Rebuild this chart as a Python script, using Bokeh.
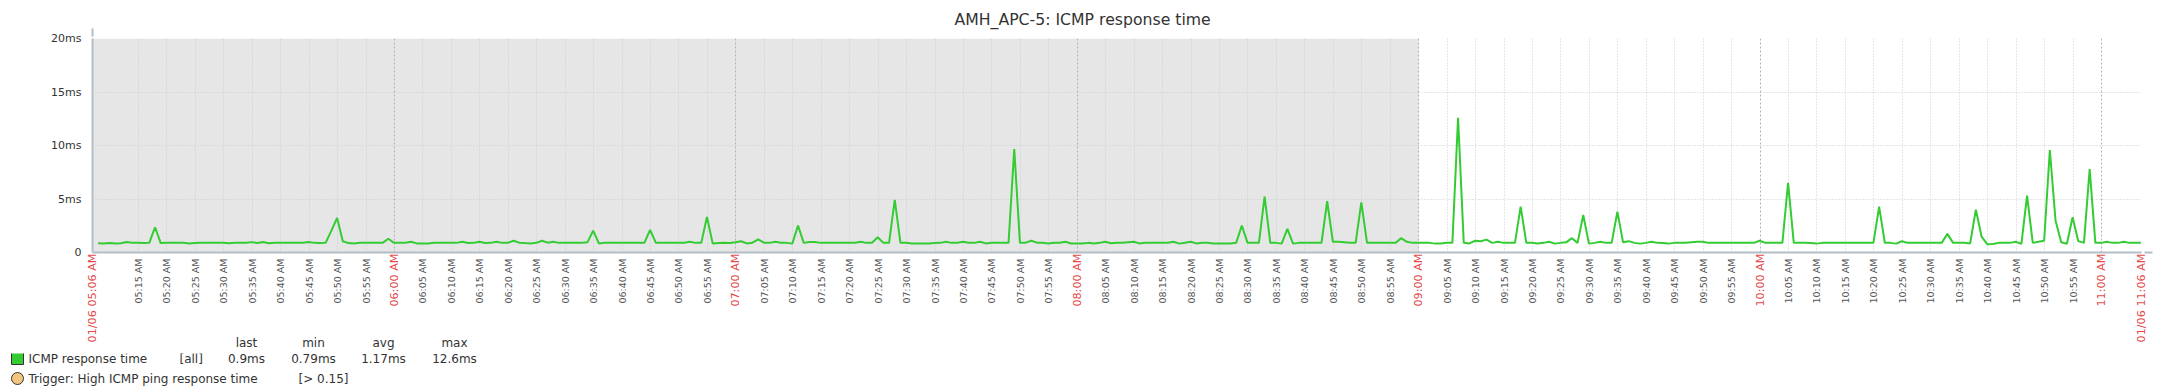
import numpy as np
from bokeh.plotting import figure
from bokeh.layouts import column, row
from bokeh.models import (Range1d, FixedTicker, Grid, BoxAnnotation, LinearAxis,
                          Arrow, NormalHead)
from bokeh.core.properties import value
from bokeh.embed import file_html
from bokeh.resources import INLINE

# ---------------- data ----------------
title_text = "AMH_APC-5: ICMP response time"
series_name = "ICMP response time"
series_scope = "[all]"
trigger_name = "Trigger: High ICMP ping response time"
trigger_cond = "[> 0.15]"
legend_cols = ["last", "min", "avg", "max"]
legend_vals = ["0.9ms", "0.79ms", "1.17ms", "12.6ms"]

# time window, minutes after midnight (05:06:56 .. 11:07:02)
x_start = 306.93
x_end = 667.03
first_sample = 307.92      # first ping sample (minutes after midnight)
sample_step = 1.0          # one ping per minute

# ICMP response time, ms, one value per minute
response_ms = [
    0.87, 0.85, 0.88, 0.85, 0.87, 0.98, 0.92, 0.90, 0.88, 0.92,
    2.36, 0.88, 0.90, 0.90, 0.90, 0.90, 0.85, 0.88, 0.90, 0.90,
    0.90, 0.90, 0.90, 0.86, 0.90, 0.90, 0.92, 0.97, 0.88, 0.98,
    0.86, 0.90, 0.90, 0.90, 0.90, 0.90, 0.92, 0.98, 0.90, 0.88,
    0.92, 2.05, 3.23, 1.05, 0.88, 0.85, 0.90, 0.90, 0.90, 0.90,
    0.90, 1.28, 0.90, 0.90, 0.92, 1.00, 0.85, 0.84, 0.85, 0.90,
    0.90, 0.90, 0.90, 0.90, 1.00, 0.88, 0.90, 1.00, 0.88, 0.90,
    1.00, 0.90, 0.90, 1.10, 0.92, 0.88, 0.85, 0.90, 1.10, 0.92,
    1.00, 0.90, 0.90, 0.90, 0.90, 0.90, 0.95, 2.05, 0.85, 0.90,
    0.90, 0.90, 0.90, 0.90, 0.90, 0.90, 0.90, 2.12, 0.92, 0.90,
    0.90, 0.90, 0.90, 0.92, 1.00, 0.90, 0.90, 3.33, 0.85, 0.88,
    0.90, 0.88, 0.95, 1.05, 0.85, 0.92, 1.22, 0.92, 0.90, 1.00,
    0.92, 0.90, 0.83, 2.52, 0.90, 0.98, 0.98, 0.90, 0.90, 0.90,
    0.90, 0.90, 0.90, 0.92, 1.00, 0.90, 0.92, 1.43, 0.90, 0.90,
    4.91, 0.90, 0.90, 0.85, 0.84, 0.85, 0.84, 0.88, 0.90, 1.00,
    0.90, 0.92, 1.00, 0.92, 0.90, 1.00, 0.85, 0.90, 0.90, 0.90,
    0.90, 9.67, 0.90, 0.92, 1.10, 0.92, 0.90, 0.85, 0.90, 0.92,
    1.00, 0.84, 0.83, 0.84, 0.90, 0.85, 0.90, 1.00, 0.86, 0.90,
    0.90, 0.95, 1.00, 0.85, 0.90, 0.90, 0.92, 0.90, 0.92, 1.00,
    0.83, 0.92, 1.00, 0.85, 0.90, 0.90, 0.85, 0.84, 0.84, 0.85,
    0.90, 2.52, 0.90, 0.90, 0.90, 5.22, 0.90, 0.90, 0.83, 2.21,
    0.83, 0.90, 0.90, 0.90, 0.90, 0.90, 4.79, 1.00, 1.00, 0.95,
    0.90, 0.90, 4.69, 0.90, 0.90, 0.90, 0.90, 0.90, 0.90, 1.34,
    1.00, 0.90, 0.92, 0.90, 0.90, 0.83, 0.85, 0.90, 0.90, 12.6,
    0.90, 0.85, 1.10, 1.05, 1.20, 0.90, 1.00, 0.90, 0.90, 0.90,
    4.29, 0.90, 0.90, 0.85, 0.90, 1.00, 0.83, 0.90, 0.95, 1.34,
    0.90, 3.51, 0.83, 0.90, 1.00, 0.90, 0.90, 3.82, 0.95, 1.06,
    0.90, 0.83, 0.90, 1.00, 0.90, 0.88, 0.83, 0.90, 0.90, 0.90,
    0.95, 1.00, 1.00, 0.90, 0.90, 0.90, 0.90, 0.90, 0.90, 0.90,
    0.90, 0.90, 1.10, 0.90, 0.90, 0.90, 0.90, 6.50, 0.90, 0.90,
    0.90, 0.88, 0.83, 0.90, 0.90, 0.90, 0.90, 0.90, 0.90, 0.90,
    0.90, 0.90, 0.90, 4.29, 0.90, 0.90, 0.83, 1.05, 0.90, 0.90,
    0.90, 0.90, 0.90, 0.90, 0.90, 1.74, 0.90, 0.90, 0.90, 0.85,
    4.00, 1.49, 0.78, 0.80, 0.90, 0.90, 0.90, 1.00, 0.81, 5.32,
    0.90, 1.00, 1.10, 9.58, 2.99, 0.96, 0.81, 3.30, 1.06, 0.90,
    7.80, 0.90, 0.90, 1.00, 0.90, 0.90, 1.00, 0.90, 0.90, 0.90,
]
sample_times = first_sample + sample_step * np.arange(len(response_ms))

y_ticks = [0, 5, 10, 15, 20]
y_tick_labels = ["0", "5ms", "10ms", "15ms", "20ms"]

minor_ticks = [m for m in range(315, 660, 5) if m % 60 != 0]
minor_tick_labels = ["%02d:%02d AM" % (m // 60, m % 60) for m in minor_ticks]
hour_ticks = [360, 420, 480, 540, 600, 660]
main_ticks = [x_start + 0.01] + hour_ticks + [x_end - 0.01]
main_tick_labels = ["01/06 05:06 AM", "06:00 AM", "07:00 AM", "08:00 AM",
                    "09:00 AM", "10:00 AM", "11:00 AM", "01/06 11:06 AM"]
work_period_end = 540   # 09:00, shaded before it

# ---------------- layout (page pixels; page has no margin) ----------------
W = 2177
BL, BR, BT = 92, 36, 38
FH = 214
BB = 101
H_MAIN = BT + FH + BB
H_LEG = 390 - H_MAIN
FW = W - BL - BR


def dx(page_x):
    return x_start + (page_x - BL) * (x_end - x_start) / FW


FONT = "DejaVu Sans"
TXT = "#333333"
AXIS = "#b4bec6"
GRID = "#c6ced5"
GRID_MAIN = "#a9b3bb"
RED = "#e24b4b"
GREEN = "#33cc33"

p = figure(width=W, height=H_MAIN, x_range=Range1d(x_start, x_end), y_range=Range1d(0, 20),
           output_backend="svg", toolbar_location=None,
           min_border_left=BL, min_border_right=BR, min_border_top=BT, min_border_bottom=BB)
p.outline_line_color = None
p.background_fill_color = "white"
p.border_fill_color = "white"

# title
p.title.text = title_text
p.title.align = "left"
p.title.vertical_align = "top"
p.title.offset = 862
p.title.standoff = 15
p.title.text_font = FONT
p.title.text_font_size = "15.7px"
p.title.text_font_style = "normal"
p.title.text_color = TXT

# shaded period
p.add_layout(BoxAnnotation(left=x_start, right=work_period_end, fill_color="#e6e6e6",
                           fill_alpha=1.0, line_color=None, level="image"))

# grids
p.xgrid.ticker = FixedTicker(ticks=minor_ticks + [x_end])
p.xgrid.grid_line_color = GRID
p.xgrid.grid_line_dash = "1 2"
p.ygrid.ticker = FixedTicker(ticks=[5, 10, 15, 20])
p.ygrid.grid_line_color = GRID
p.ygrid.grid_line_dash = "1 2"
p.add_layout(Grid(dimension=0, ticker=FixedTicker(ticks=hour_ticks), grid_line_color=GRID_MAIN,
                  grid_line_dash="2 2", grid_line_width=1))


def plain(ax):
    ax.major_tick_line_color = None
    ax.minor_tick_line_color = None
    ax.major_tick_out = 0
    ax.major_tick_in = 0
    ax.minor_tick_out = 0
    ax.minor_tick_in = 0


# gray time labels
xa = p.xaxis[0]
xa.ticker = FixedTicker(ticks=minor_ticks)
xa.major_label_overrides = {m: lab for m, lab in zip(minor_ticks, minor_tick_labels)}
xa.major_label_orientation = np.pi / 2
xa.major_label_text_font = FONT
xa.major_label_text_font_size = "9.5px"
xa.major_label_text_color = "#555555"
xa.major_label_standoff = 6
xa.axis_line_color = AXIS
xa.axis_line_width = 2
plain(xa)

# red (main) time labels
red_axis = LinearAxis(ticker=FixedTicker(ticks=main_ticks),
                      major_label_overrides={t: lab for t, lab in zip(main_ticks, main_tick_labels)},
                      major_label_orientation=np.pi / 2, major_label_text_font=FONT,
                      major_label_text_font_size="11.2px", major_label_text_color=RED,
                      major_label_standoff=-53, axis_line_color=None)
plain(red_axis)
p.add_layout(red_axis, "below")

# legend header
col_centers = [dx(246), dx(313), dx(383), dx(454)]
hdr_axis = LinearAxis(ticker=FixedTicker(ticks=col_centers),
                      major_label_overrides={t: lab for t, lab in zip(col_centers, legend_cols)},
                      major_label_orientation="horizontal", major_label_text_font=FONT,
                      major_label_text_font_size="12px", major_label_text_color=TXT,
                      major_label_standoff=-10, axis_line_color=None)
plain(hdr_axis)
p.add_layout(hdr_axis, "below")

ya = p.yaxis[0]
ya.ticker = FixedTicker(ticks=y_ticks)
ya.major_label_overrides = {t: lab for t, lab in zip(y_ticks, y_tick_labels)}
ya.major_label_text_font = FONT
ya.major_label_text_font_size = "11px"
ya.major_label_text_color = TXT
ya.major_label_standoff = 11
ya.axis_line_color = AXIS
ya.axis_line_width = 2
plain(ya)

# axis arrows
p.add_layout(Arrow(end=NormalHead(size=8, fill_color="white", line_color=AXIS, line_width=1.2),
                   x_start=x_end, y_start=0, x_end=dx(2152), y_end=0,
                   line_color=AXIS, line_width=2))
p.add_layout(Arrow(end=NormalHead(size=8, fill_color="white", line_color=AXIS, line_width=1.2),
                   x_start=x_start, y_start=20, x_end=x_start, y_end=20 + 10 * 20.0 / FH,
                   line_color=AXIS, line_width=2))

# data line
p.line(sample_times, response_ms, line_color=GREEN, line_width=2)

# ---------------- legend rows (page-pixel coordinates) ----------------
LEG_TOP = H_MAIN
leg = figure(width=W, height=H_LEG, x_range=Range1d(0, W),
             y_range=Range1d(LEG_TOP + H_LEG, LEG_TOP),
             output_backend="svg", toolbar_location=None,
             min_border_left=0, min_border_right=0, min_border_top=0, min_border_bottom=0,
             x_axis_location=None, y_axis_location=None)
leg.grid.visible = False
leg.outline_line_color = None
leg.background_fill_color = "white"
leg.border_fill_color = "white"

row1_y, row2_y = 358, 378
leg.scatter([17], [row1_y], marker="square", size=12, fill_color=GREEN, line_color="#333333",
            line_width=1)
leg.scatter([17], [row2_y], marker="circle", size=12, fill_color="#f2c47e", line_color="#333333",
            line_width=1)
leg.text(x=[28, 179, 28, 298], y=[row1_y, row1_y, row2_y, row2_y],
         text=[series_name, series_scope, trigger_name, trigger_cond],
         text_font=value(FONT), text_font_size="12px", text_align="left",
         text_baseline="middle", text_color=TXT)
leg.text(x=[246, 313, 383, 454], y=[row1_y] * 4, text=legend_vals,
         text_font=value(FONT), text_font_size="12px", text_align="center",
         text_baseline="middle", text_color=TXT)

# legend figure nested in its own row so its frame is not aligned to the chart's
open("out.html", "w").write(file_html(column(p, row(leg)), INLINE))
